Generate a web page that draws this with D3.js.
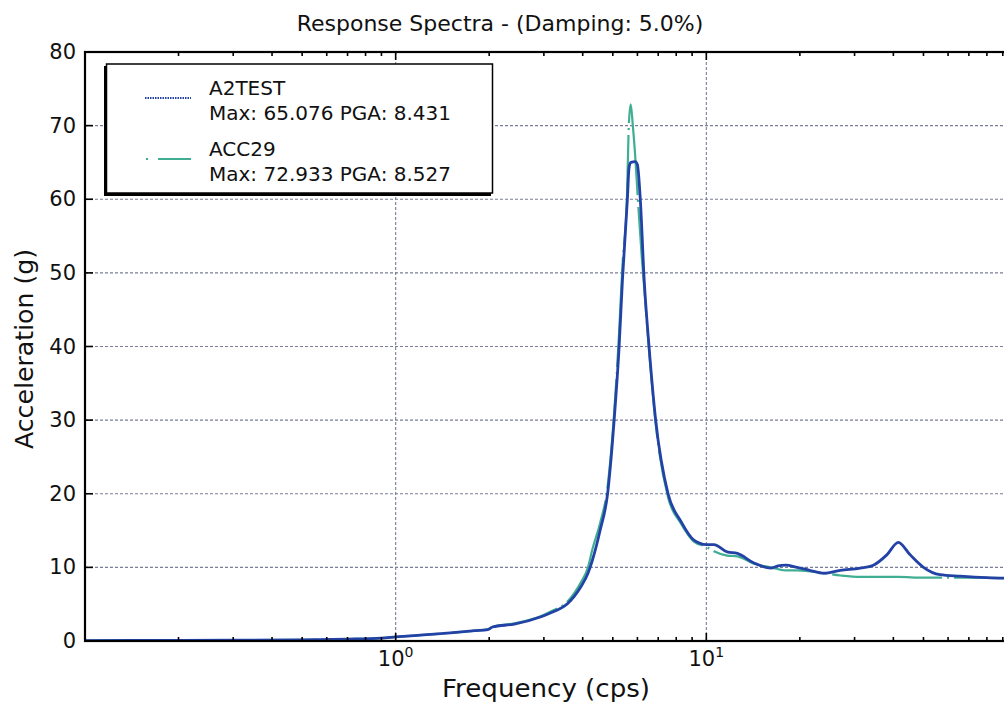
<!DOCTYPE html>
<html><head><meta charset="utf-8">
<script src="https://cdn.jsdelivr.net/npm/d3@7"></script>
<style>
html,body{margin:0;padding:0;background:#fff;}
svg{display:block;font-family:"DejaVu Sans",sans-serif;}
</style></head>
<body>
<svg id="chart" width="1004" height="706"></svg>
<script>
// ---- data ----
const titleText = "Response Spectra - (Damping: 5.0%)";
const xLabel = "Frequency (cps)";
const yLabel = "Acceleration (g)";
const yTicks = [0,10,20,30,40,50,60,70,80];
const xMajorTicks = [0.1,1,10,100];
const xMinorTicks = [0.2,0.3,0.4,0.5,0.6,0.7,0.8,0.9,2,3,4,5,6,7,8,9,20,30,40,50,60,70,80,90];

const seriesNames = ["A2TEST","ACC29"];
const seriesInfo = ["Max: 65.076 PGA: 8.431","Max: 72.933 PGA: 8.527"];
const seriesColors = ["#2342a6","#3fae92"];

const freqA = [0.1,0.2,0.3,0.5,0.7,0.9,1.0,1.2,1.5,1.8,1.98,2.05,2.41,2.94,3.23,3.58,3.95,4.16,4.30,4.55,4.81,5.05,5.24,5.37,5.57,5.64,5.72,5.9,6.0,6.13,6.31,6.54,6.87,7.53,8.27,9.12,10,10.58,11.67,12.58,14.23,16.1,17.0,17.98,19.6,21.5,23.9,27.0,31.3,34.5,38.1,41.5,45.3,50.0,56.5,65.6,80,100];
const accA  = [0.05,0.08,0.1,0.15,0.25,0.4,0.55,0.8,1.1,1.4,1.55,1.9,2.3,3.3,4.0,5.1,7.4,9.2,11,15,20,30,40,49,60,64.3,65,65.1,64.7,60,49,40,30,20,16.3,13.7,13.1,13.1,12.1,11.9,10.6,9.9,10.2,10.3,10.0,9.6,9.2,9.6,9.9,10.3,11.7,13.4,11.7,10.0,9.0,8.8,8.6,8.5];

const freqB = [0.1,0.2,0.3,0.5,0.7,0.9,1.0,1.2,1.5,1.8,1.98,2.05,2.41,2.94,3.23,3.58,3.95,4.16,4.30,4.55,4.81,5.05,5.24,5.37,5.55,5.63,5.71,5.8,5.9,6.02,6.2,6.31,6.54,6.87,7.53,8.27,9.12,10,10.58,11.67,12.58,14.23,16.1,17.98,19.6,23.9,27,31.3,34.5,41.5,50,65.6,100];
const accB  = [0.05,0.08,0.1,0.15,0.25,0.4,0.55,0.8,1.1,1.4,1.6,1.9,2.4,3.4,4.2,5.4,8.0,10,12.5,16,21,31,42,51,60,70,72.9,70,66,60,52,48,39.5,29.5,19.5,16,13.5,12.8,12.2,11.6,11.5,10.5,10.0,9.6,9.6,9.2,8.9,8.7,8.7,8.7,8.6,8.6,8.5];

// ---- layout ----
const svg = d3.select("#chart");
const L = 85, R = 1017, T = 52, B = 641;
const x = d3.scaleLog().domain([0.1,100]).range([L,R]);
const y = d3.scaleLinear().domain([0,80]).range([B,T]);

// grid
const gridStyle = g => g.attr("stroke","#7a7e96").attr("stroke-width",1.1).attr("stroke-dasharray","3,2");
svg.append("g").selectAll("line").data(yTicks.slice(1,-1)).join("line")
  .attr("x1",L).attr("x2",R).attr("y1",d=>y(d)).attr("y2",d=>y(d)).call(gridStyle);
svg.append("g").selectAll("line").data([1,10]).join("line")
  .attr("x1",d=>x(d)).attr("x2",d=>x(d)).attr("y1",T).attr("y2",B).call(gridStyle);

// curves
svg.append("clipPath").attr("id","clip").append("rect")
  .attr("x",L).attr("y",T).attr("width",R-L).attr("height",B-T);
const line = d3.line().x(d=>x(d[0])).y(d=>y(d[1])).curve(d3.curveMonotoneX);
const dataB = freqB.map((f,i)=>[f,accB[i]]);
const dataA = freqA.map((f,i)=>[f,accA[i]]);
const plotG = svg.append("g").attr("clip-path","url(#clip)");
plotG.append("path").datum(dataB).attr("d",line).attr("fill","none")
  .attr("stroke",seriesColors[1]).attr("stroke-width",2.2).attr("stroke-dasharray","110,5,2,5");
plotG.append("path").datum(dataA).attr("d",line).attr("fill","none")
  .attr("stroke",seriesColors[0]).attr("stroke-width",2.8);

// frame
svg.append("rect").attr("x",L).attr("y",T).attr("width",R-L).attr("height",B-T)
  .attr("fill","none").attr("stroke","#000").attr("stroke-width",2.2);

// ticks (inside)
const tg = svg.append("g").attr("stroke","#000").attr("stroke-width",1.6);
xMajorTicks.forEach(v=>{
  tg.append("line").attr("x1",x(v)).attr("x2",x(v)).attr("y1",B).attr("y2",B-8);
  tg.append("line").attr("x1",x(v)).attr("x2",x(v)).attr("y1",T).attr("y2",T+8);
});
xMinorTicks.forEach(v=>{
  tg.append("line").attr("x1",x(v)).attr("x2",x(v)).attr("y1",B).attr("y2",B-4);
  tg.append("line").attr("x1",x(v)).attr("x2",x(v)).attr("y1",T).attr("y2",T+4);
});
yTicks.forEach(v=>{
  tg.append("line").attr("x1",L).attr("x2",L+8).attr("y1",y(v)).attr("y2",y(v));
});

// y tick labels
svg.append("g").selectAll("text").data(yTicks).join("text")
  .attr("x",76).attr("y",d=>y(d)+7).attr("text-anchor","end")
  .attr("font-size",21).attr("fill","#111").text(d=>d);

// x tick labels (10^n)
[1,10].forEach(v=>{
  const t = svg.append("text").attr("x",x(v)).attr("y",666).attr("text-anchor","middle")
    .attr("font-size",21).attr("fill","#111");
  t.append("tspan").text("10");
  t.append("tspan").attr("dy",-9).attr("font-size",14).text(Math.round(Math.log10(v)));
});

// title & axis labels
svg.append("text").attr("x",500).attr("y",31).attr("text-anchor","middle")
  .attr("font-size",22).attr("fill","#111").text(titleText);
svg.append("text").attr("x",546).attr("y",697).attr("text-anchor","middle")
  .attr("font-size",24).attr("fill","#111").attr("textLength",208).attr("lengthAdjust","spacingAndGlyphs").text(xLabel);
svg.append("text").attr("transform","translate(33,349) rotate(-90)").attr("text-anchor","middle")
  .attr("font-size",24).attr("fill","#111").attr("textLength",200).attr("lengthAdjust","spacingAndGlyphs").text(yLabel);

// legend
const lg = svg.append("g");
lg.append("rect").attr("x",104).attr("y",66).attr("width",387).attr("height",130).attr("fill","#000");
lg.append("rect").attr("x",106.5).attr("y",64).attr("width",386).attr("height",129)
  .attr("fill","#fff").attr("stroke","#000").attr("stroke-width",1.5);
const rows = [{ly:98, ty1:95, ty2:120}, {ly:159, ty1:156, ty2:181}];
rows.forEach((r,i)=>{
  if(i===0){
    lg.append("line").attr("x1",145).attr("x2",191).attr("y1",r.ly).attr("y2",r.ly)
      .attr("stroke",seriesColors[0]).attr("stroke-width",2).attr("stroke-dasharray","1.5,1");
  } else {
    lg.append("line").attr("x1",146).attr("x2",191).attr("y1",r.ly).attr("y2",r.ly)
      .attr("stroke",seriesColors[1]).attr("stroke-width",2).attr("stroke-dasharray","2,10,33");
  }
  lg.append("text").attr("x",209).attr("y",r.ty1).attr("font-size",20).attr("fill","#111").text(seriesNames[i]);
  lg.append("text").attr("x",209).attr("y",r.ty2).attr("font-size",20).attr("fill","#111").text(seriesInfo[i]);
});
</script>
</body></html>
